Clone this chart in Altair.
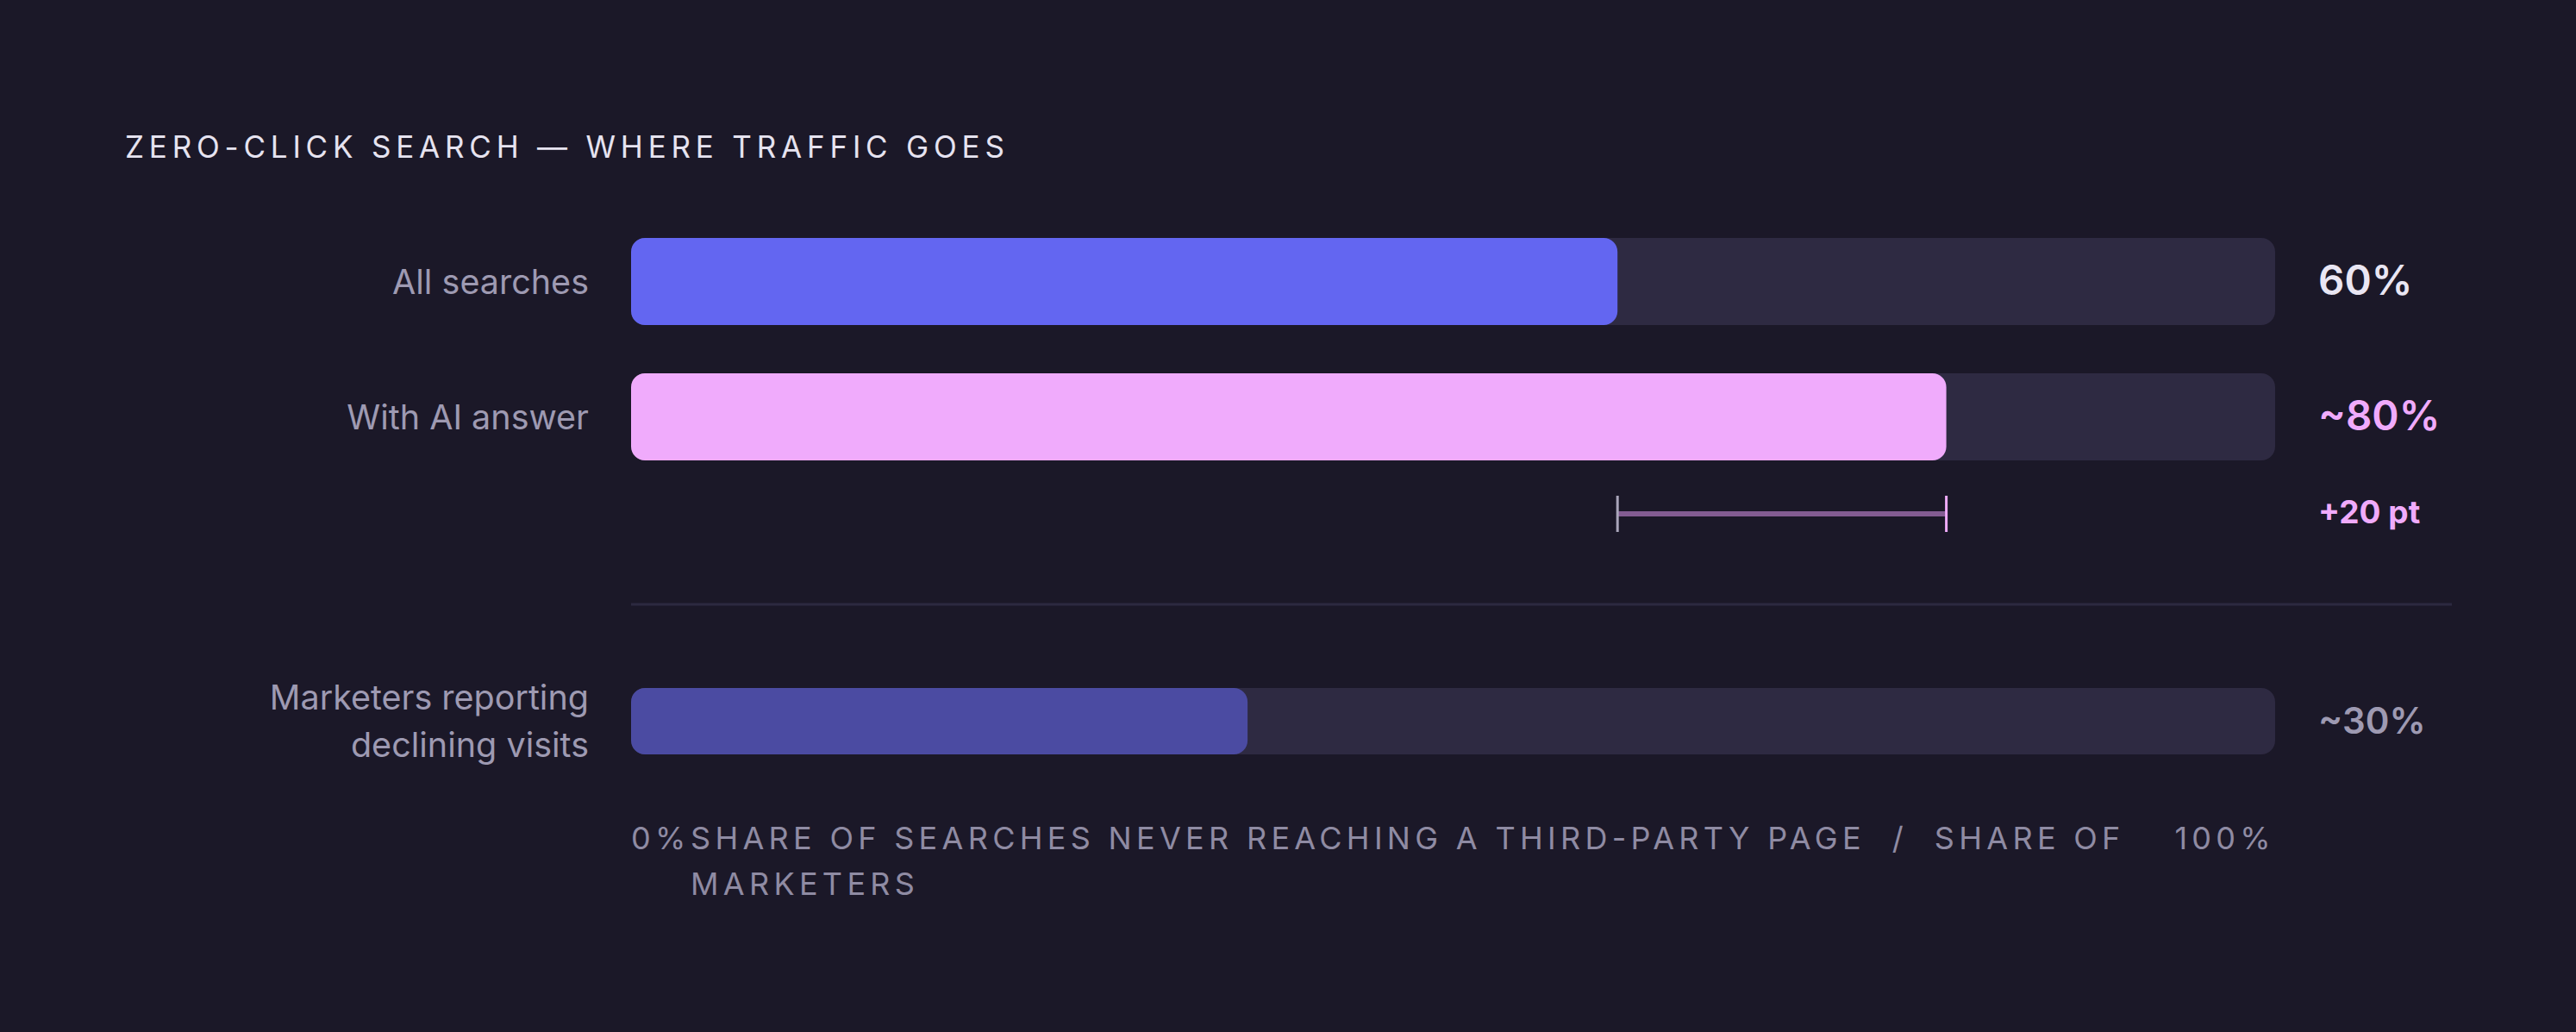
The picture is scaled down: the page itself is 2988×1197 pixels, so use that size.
import altair as alt
import pandas as pd

# ---- data ----
categories = ["All searches", "With AI answer", "Marketers reporting\ndeclining visits"]
values = [60, 80, 37.5]            # bar lengths as drawn (percent of track)
value_labels = ["60%", "~80%", "~30%"]
delta_label = "+20 pt"
title_text = "ZERO-CLICK SEARCH — WHERE TRAFFIC GOES"
axis_min_label = "0%"
axis_max_label = "100%"
axis_title = "SHARE OF SEARCHES NEVER REACHING A THIRD-PARTY PAGE  /  SHARE OF\nMARKETERS"

# ---- layout / style ----
W, H = 1907, 1175
row_top = [268, 425, 790]
row_bottom = [369, 526, 867]
bar_colors = ["#6366f1", "#f0abfc", "#4b4ba2"]
label_colors = ["#e9e6f3", "#f0abfc", "#9e9ab2"]
label_sizes = [47.5, 47.5, 42]
BG = "#1b1828"
TRACK = "#2e2a42"
FONT = "Inter"
CAT_LH = 55

mids = [(a + b) / 2 for a, b in zip(row_top, row_bottom)]
rows = pd.DataFrame({
    "cat": categories,
    "value": values,
    "label": value_labels,
    "zero": [0] * 3,
    "full": [100] * 3,
    "top": row_top,
    "bottom": row_bottom,
    "mid": mids,
    "catmid": [m - (c.count("\n")) * CAT_LH / 2 for m, c in zip(mids, categories)],
    "color": bar_colors,
    "lcolor": label_colors,
    "fs": label_sizes,
})

xs = alt.Scale(domain=[0, 100], range=[0, W])
ys = alt.Scale(domain=[0, H], range=[0, H])

base = alt.Chart(rows)

track = base.mark_bar(cornerRadius=16, color=TRACK).encode(
    x=alt.X("zero:Q", scale=xs, axis=None),
    x2="full:Q",
    y=alt.Y("top:Q", scale=ys, axis=None),
    y2="bottom:Q",
)

bars = base.mark_bar(cornerRadius=16).encode(
    x=alt.X("zero:Q", scale=xs, axis=None),
    x2="value:Q",
    y=alt.Y("top:Q", scale=ys, axis=None),
    y2="bottom:Q",
    color=alt.Color("color:N", scale=None),
)

cat_labels = base.mark_text(
    align="right", baseline="middle", font=FONT, fontSize=39.5, dy=2,
    color="#9e9ab2", lineBreak="\n", lineHeight=CAT_LH,
).encode(
    x=alt.value(-49),
    y=alt.Y("catmid:Q", scale=ys, axis=None),
    text="cat:N",
)

val_labels = base.mark_text(
    align="left", baseline="middle", font=FONT, fontWeight=600, dx=50, dy=1,
).encode(
    x=alt.X("full:Q", scale=xs, axis=None),
    y=alt.Y("mid:Q", scale=ys, axis=None),
    text="label:N",
    color=alt.Color("lcolor:N", scale=None),
    size=alt.Size("fs:Q", scale=None),
)

# bracket between the first two bars
br = pd.DataFrame({
    "lo": [values[0]], "hi": [values[1]], "full": [100],
    "y": [588], "yt": [567], "yb": [609], "txt": [delta_label],
})
bb = alt.Chart(br)
br_line = bb.mark_rule(color="#835c92", strokeWidth=6).encode(
    x=alt.X("lo:Q", scale=xs, axis=None), x2="hi:Q",
    y=alt.Y("y:Q", scale=ys, axis=None),
)
br_left = bb.mark_rule(color="#a9a5ba", strokeWidth=3).encode(
    x=alt.X("lo:Q", scale=xs, axis=None),
    y=alt.Y("yt:Q", scale=ys, axis=None), y2="yb:Q",
)
br_right = bb.mark_rule(color="#f0abfc", strokeWidth=3).encode(
    x=alt.X("hi:Q", scale=xs, axis=None),
    y=alt.Y("yt:Q", scale=ys, axis=None), y2="yb:Q",
)
br_text = bb.mark_text(
    align="left", baseline="middle", font=FONT, fontWeight=700,
    fontSize=37, color="#f0abfc", dx=50,
).encode(
    x=alt.X("full:Q", scale=xs, axis=None),
    y=alt.Y("y:Q", scale=ys, axis=None),
    text="txt:N",
)

# divider
div = alt.Chart(pd.DataFrame({"y": [693]})).mark_rule(color="#2c2940", strokeWidth=3).encode(
    x=alt.value(0), x2=alt.value(2112),
    y=alt.Y("y:Q", scale=ys, axis=None),
)

# title (letter-spaced through CSS class "ttl_marks")
title = alt.Chart(pd.DataFrame({"t": [title_text], "y": [164]}), name="ttl").mark_text(
    align="left", baseline="middle", font=FONT, fontSize=35, fontWeight=400,
    color="#e6e3f0",
).encode(
    x=alt.value(-587),
    y=alt.Y("y:Q", scale=ys, axis=None),
    text="t:N",
)

# axis-like labels (letter-spaced through CSS classes)
ax = pd.DataFrame({
    "pos": [0, 100],
    "t": [axis_min_label, axis_max_label],
    "y": [977, 977],
})
ax_min = alt.Chart(ax.iloc[[0]], name="axmin").mark_text(
    align="left", baseline="alphabetic", font=FONT, fontSize=36, color="#8f8ba3",
).encode(
    x=alt.X("pos:Q", scale=xs, axis=None),
    y=alt.Y("y:Q", scale=ys, axis=None),
    text="t:N",
)
ax_max = alt.Chart(ax.iloc[[1]], name="axmax").mark_text(
    align="right", baseline="alphabetic", font=FONT, fontSize=36, color="#8f8ba3",
).encode(
    x=alt.X("pos:Q", scale=xs, axis=None),
    y=alt.Y("y:Q", scale=ys, axis=None),
    text="t:N",
)
ax_title = alt.Chart(pd.DataFrame({"t": [axis_title], "y": [977]}), name="axttl").mark_text(
    align="left", baseline="alphabetic", font=FONT, fontSize=36, color="#8f8ba3",
    lineBreak="\n", lineHeight=53,
).encode(
    x=alt.value(69),
    y=alt.Y("y:Q", scale=ys, axis=None),
    text="t:N",
)

chart = alt.layer(
    track, bars, cat_labels, val_labels,
    br_line, br_left, br_right, br_text,
    div, title, ax_min, ax_max, ax_title,
).properties(
    width=W, height=H,
    autosize=alt.AutoSizeParams(type="none"),
    padding={"left": 724, "top": 0, "right": 335, "bottom": 0},
).configure(
    background=BG,
).configure_view(stroke=None)

CSS = (
    "body{background:%s;}"
    ".ttl_marks text{letter-spacing:5.8px;}"
    ".axmin_marks text,.axmax_marks text,.axttl_marks text{letter-spacing:5.3px;white-space:pre;}"
) % BG

chart.save("out.html", embed_options={"renderer": "svg", "actions": False, "defaultStyle": CSS})
